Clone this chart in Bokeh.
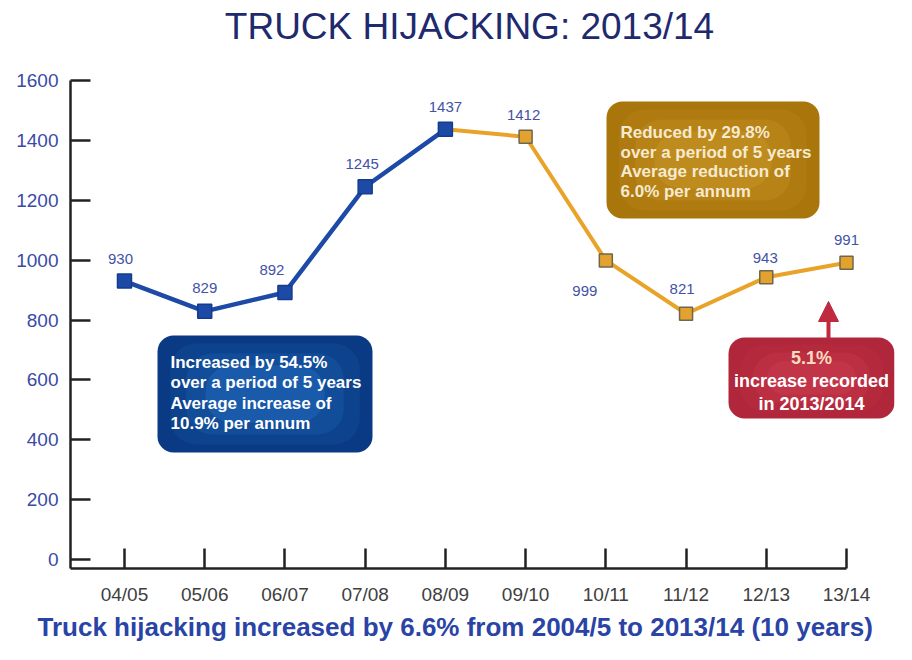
from bokeh.plotting import figure
from bokeh.models import (Range1d, FixedTicker, BoxAnnotation, Label, Arrow,
                          NormalHead, ColumnDataSource, Title)
from bokeh.core.properties import value
from bokeh.embed import file_html
from bokeh.resources import INLINE

# ---------------- data ----------------
YEARS = ["04/05", "05/06", "06/07", "07/08", "08/09",
         "09/10", "10/11", "11/12", "12/13", "13/14"]
CASES = [930, 829, 892, 1245, 1437, 1412, 999, 821, 943, 991]
Y_TICKS = [0, 200, 400, 600, 800, 1000, 1200, 1400, 1600]
SPLIT = 4  # index where the trend turns (08/09)

TITLE = "TRUCK HIJACKING: 2013/14"
CAPTION = "Truck hijacking increased by 6.6% from 2004/5 to 2013/14 (10 years)"
BLUE_NOTE = ["Increased by 54.5%", "over a period of 5 years",
             "Average increase of", "10.9% per annum"]
GOLD_NOTE = ["Reduced by 29.8%", "over a period of 5 years",
             "Average reduction of", "6.0% per annum"]
RED_NOTE = ["5.1%", "increase recorded", "in 2013/2014"]

# label offsets (screen px) relative to each point
LABEL_DX = [-4, 0, -13, -3, 0, -2, -21, -4, -1, 0]
LABEL_DY = [-22, -23, -22, -23, -22, -22, 31, -25, -19, -23]

# ---------------- layout ----------------
W, H = 896, 644
AX_L, AX_T, AX_R, AX_B = 70, 80, 846, 568   # axis box in pixels
X0, XLAST = -0.673, 9.0
Y0, YTOP = -30, 1600
FR = 894                                     # frame right edge (room for notes)
XPX = (AX_R - AX_L) / (XLAST - X0)
YPX = (AX_B - AX_T) / (YTOP - Y0)
X1 = XLAST + (FR - AX_R) / XPX
Y1 = YTOP + AX_T / YPX                       # frame reaches the top of the figure


def sx2x(sx):
    return X0 + (sx - AX_L) / XPX


def sy2y(sy):
    return YTOP - (sy - AX_T) / YPX


BLUE = "#1d4aa6"
ORANGE = "#e9a328"
FONT = "Liberation Sans"

p = figure(width=W, height=H, x_range=Range1d(X0, X1), y_range=Range1d(Y0, Y1),
           output_backend="svg", toolbar_location=None, title=None,
           min_border_left=AX_L, min_border_right=W - FR,
           min_border_top=0, min_border_bottom=H - AX_B)
p.outline_line_color = None
p.grid.visible = False
p.background_fill_color = "white"
p.border_fill_color = "white"

# axes
for ax in (p.xaxis, p.yaxis):
    ax.axis_line_width = 2.5
    ax.axis_line_color = "#222222"
    ax.major_tick_line_width = 2.5
    ax.major_tick_line_color = "#222222"
    ax.major_tick_in = 20
    ax.major_tick_out = 0
    ax.minor_tick_line_color = None
    ax.major_label_text_font = FONT

p.xaxis.bounds = (X0, XLAST)
p.xaxis.ticker = FixedTicker(ticks=list(range(len(YEARS))))
p.xaxis.major_label_overrides = {i: y for i, y in enumerate(YEARS)}
p.xaxis.major_label_text_font_size = "19px"
p.xaxis.major_label_text_color = "#404040"
p.xaxis.major_label_standoff = 15

p.yaxis.bounds = (Y0, YTOP)
p.yaxis.ticker = FixedTicker(ticks=Y_TICKS)
p.yaxis.major_label_text_font_size = "19px"
p.yaxis.major_label_text_color = "#3a4aa6"
p.yaxis.major_label_standoff = 12

# ---------------- annotation boxes ----------------
def rounded_box(l, r, t, b, base, highlights):
    p.add_layout(BoxAnnotation(left=sx2x(l), right=sx2x(r), top=sy2y(t), bottom=sy2y(b),
                               fill_color=base, fill_alpha=1.0, line_color=None,
                               border_radius=16, level="underlay"))
    for inset, col, alpha in highlights:
        p.add_layout(BoxAnnotation(left=sx2x(l + inset * 1.6), right=sx2x(r - inset * 1.6),
                                   top=sy2y(t + inset), bottom=sy2y(b - inset),
                                   fill_color=col, fill_alpha=alpha, line_color=None,
                                   border_radius=26, level="underlay"))


rounded_box(157, 372, 335, 452, "#0a3a84",
            [(8, "#14569f", 0.35), (18, "#1e68b8", 0.3), (30, "#2a7fd0", 0.3)])
rounded_box(606, 819, 101, 218, "#a8760a",
            [(8, "#b8841a", 0.4), (18, "#c69224", 0.35), (30, "#d2a030", 0.3)])
rounded_box(728, 894, 337, 418, "#b0263a",
            [(7, "#bf3044", 0.4), (15, "#c93a4c", 0.35), (24, "#d04656", 0.3)])

# ---------------- lines & markers ----------------
xs = list(range(len(YEARS)))
src_up = ColumnDataSource(dict(x=xs[:SPLIT + 1], y=CASES[:SPLIT + 1]))
src_dn = ColumnDataSource(dict(x=xs[SPLIT:], y=CASES[SPLIT:]))

p.line("x", "y", source=src_dn, line_color=ORANGE, line_width=4)
p.line("x", "y", source=src_up, line_color=BLUE, line_width=4.5)
p.scatter("x", "y", source=ColumnDataSource(dict(x=xs[SPLIT + 1:], y=CASES[SPLIT + 1:])),
          marker="square", size=13, fill_color="#e3a22e", line_color="#6f6650", line_width=1.5)
p.scatter("x", "y", source=src_up, marker="square", size=14,
          fill_color=BLUE, line_color="#143c8c", line_width=1.5)

# value labels
lab_src = ColumnDataSource(dict(x=xs, y=CASES, t=[str(v) for v in CASES],
                                dx=LABEL_DX, dy=LABEL_DY))
p.text("x", "y", text="t", source=lab_src, x_offset="dx", y_offset="dy",
       text_align="center", text_baseline="middle", text_font_size="15px",
       text_color="#4352a6", text_font=value(FONT))

# ---------------- texts ----------------
def add_lines(lines, sx, sy0, step, size, align, colors):
    for i, (ln, col) in enumerate(zip(lines, colors)):
        p.add_layout(Label(x=sx2x(sx), y=sy2y(sy0 + i * step), text=ln,
                           text_font=FONT, text_font_size=size, text_font_style="bold",
                           text_color=col, text_align=align, text_baseline="middle"))


add_lines(BLUE_NOTE, 170, 362, 20.3, "17px", "left", ["white"] * 4)
add_lines(GOLD_NOTE, 620, 132, 19.5, "17px", "left", ["#f6ead0"] * 4)
add_lines(RED_NOTE, 811, 357, 23, "18px", "center", ["#f8dcc0", "white", "white"])

p.add_layout(Arrow(end=NormalHead(size=20, fill_color="#c02a3e", line_color="#c02a3e"),
                   x_start=sx2x(828), y_start=sy2y(338), x_end=sx2x(828), y_end=sy2y(301),
                   line_color="#c02a3e", line_width=4))

p.add_layout(Label(x=sx2x(469), y=sy2y(26), text=TITLE, text_font=FONT,
                   text_font_size="37px", text_color="#1f2a6e",
                   text_align="center", text_baseline="middle"))

p.add_layout(Title(text=CAPTION, text_font=FONT, text_font_size="26px",
                   text_font_style="bold", text_color="#2a44a6",
                   align="left", offset=-33, standoff=4), "below")

open("out.html", "w").write(file_html(p, INLINE))
